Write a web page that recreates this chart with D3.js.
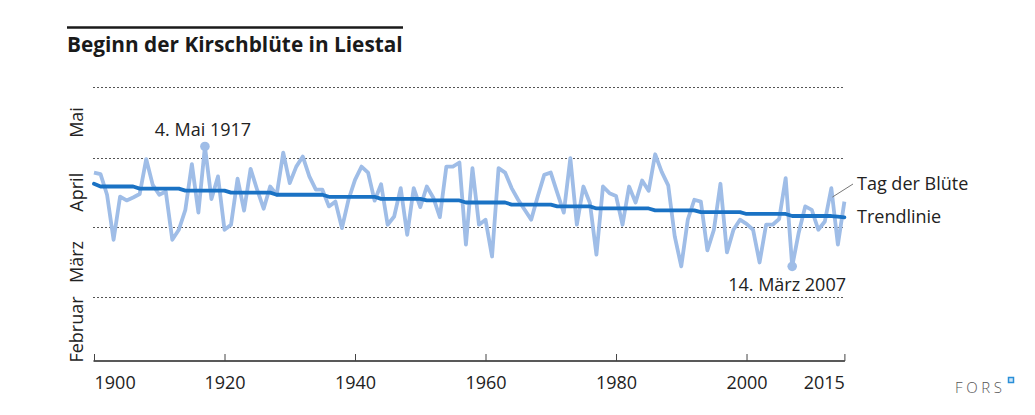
<!DOCTYPE html>
<html>
<head>
<meta charset="utf-8">
<script src="https://cdn.jsdelivr.net/npm/d3@7"></script>
<style>
  html, body { margin: 0; padding: 0; background: #fff; }
  svg { display: block; font-family: "Open Sans", "Noto Sans", sans-serif; }
</style>
</head>
<body>
<svg id="chart" width="1035" height="415"></svg>
<script>
// ---- data (day of year; 32 = 1 Feb, 60 = 1 Mar, 91 = 1 Apr, 121 = 1 May, 152 = 1 Jun)
const title = "Beginn der Kirschblüte in Liestal";
const startYear = 1900;
const bloomDay = [
  114.6, 113.9, 104.9, 85.2, 104.1, 102.4, 103.7, 105.2, 120.5, 109.2,   // 1900-1909
  104.9, 106.3, 85.2, 89.6, 98.3, 118.3, 97.1, 126.0, 103.0, 112.9,      // 1910-1919
  89.6, 91.8, 111.9, 98.0, 116.2, 107.1, 98.8, 108.5, 104.9, 123.3,      // 1920-1929
  110.0, 117.2, 121.6, 112.9, 107.1, 107.1, 99.8, 101.9, 90.3, 102.7,    // 1930-1939
  111.4, 117.2, 114.6, 102.3, 109.5, 91.8, 95.4, 107.8, 87.4, 107.8,     // 1940-1949
  99.5, 108.5, 103.6, 95.1, 117.2, 117.2, 119.0, 83.1, 116.5, 91.8,      // 1950-1959
  94.0, 77.9, 116.5, 114.6, 107.8, 102.7, 98.3, 94.0, 104.1, 113.6,      // 1960-1969
  114.6, 105.7, 97.1, 120.9, 91.8, 108.5, 101.3, 78.7, 108.5, 105.6,     // 1970-1979
  104.4, 91.8, 108.5, 101.5, 111.1, 106.6, 122.6, 114.9, 109.0, 86.7,    // 1980-1989
  73.6, 94.0, 102.7, 101.9, 80.6, 89.6, 109.7, 79.7, 89.6, 94.0,         // 1990-1999
  92.2, 89.6, 75.3, 91.8, 91.8, 94.3, 112.2, 73.6, 88.3, 99.8,           // 2000-2009
  98.3, 89.6, 93.2, 107.8, 83.1, 101.9                                   // 2010-2015
];
const trendDay = [
  109.7, 108.5, 108.5, 108.5, 108.5, 108.5, 108.5, 107.6, 107.6, 107.6,  // 1900-1909
  107.6, 107.6, 107.6, 107.6, 106.7, 106.7, 106.7, 106.7, 106.7, 106.7,  // 1910-1919
  106.7, 105.8, 105.8, 105.8, 105.8, 105.8, 105.8, 105.8, 104.9, 104.9,  // 1920-1929
  104.9, 104.9, 104.9, 104.9, 104.9, 104.9, 104.0, 104.0, 104.0, 104.0,  // 1930-1939
  104.0, 104.0, 104.0, 104.0, 103.1, 103.1, 103.1, 103.1, 103.1, 103.1,  // 1940-1949
  103.1, 102.4, 102.4, 102.4, 102.4, 102.4, 102.4, 101.5, 101.5, 101.5,  // 1950-1959
  101.5, 101.5, 101.5, 101.5, 100.6, 100.6, 100.6, 100.6, 100.6, 100.6,  // 1960-1969
  100.6, 99.8, 99.8, 99.8, 99.8, 99.8, 99.8, 98.9, 98.9, 98.9,           // 1970-1979
  98.9, 98.9, 98.9, 98.9, 98.9, 98.9, 98.1, 98.1, 98.1, 98.1,            // 1980-1989
  98.1, 98.1, 98.1, 97.3, 97.3, 97.3, 97.3, 97.3, 97.3, 97.3,            // 1990-1999
  96.5, 96.5, 96.5, 96.5, 96.5, 96.5, 96.5, 95.6, 95.6, 95.6,            // 2000-2009
  95.6, 95.6, 95.6, 95.6, 95.3, 95.0                                     // 2010-2015
];
const years = bloomDay.map((_, i) => startYear + i);
const xTicks = [1900, 1920, 1940, 1960, 1980, 2000, 2015];
const monthBounds = [32, 60, 91, 121, 152];          // Feb, Mar, Apr, May, Jun starts
const monthLabels = ["Februar", "März", "April", "Mai"];
const gridDays = [60, 91, 121, 152];
const extremes = [
  { year: 1917, label: "4. Mai 1917", pos: "above" },
  { year: 2007, label: "14. März 2007", pos: "below" }
];
const seriesLabels = ["Tag der Blüte", "Trendlinie"];

// ---- drawing
const svg = d3.select("#chart");
const x = d3.scaleLinear().domain([1900, 2015]).range([94, 844.4]);
const y = d3.scaleLinear().domain([32, 152]).range([361.5, 87]);

const lightBlue = "#9fbde7";
const darkBlue = "#1a72c4";
const textCol = "#222";
const fs = 18;

// title + rule
svg.append("line").attr("x1", 67).attr("x2", 403).attr("y1", 27.5).attr("y2", 27.5)
  .attr("stroke", "#1a1a1a").attr("stroke-width", 2.5);
svg.append("text").attr("x", 67).attr("y", 52)
  .attr("font-size", 20.8).attr("font-weight", 700).attr("fill", "#1a1a1a").text(title);

// gridlines
svg.append("g").selectAll("line").data(gridDays).join("line")
  .attr("x1", 93).attr("x2", 845)
  .attr("y1", d => Math.round(y(d)) + 0.5).attr("y2", d => Math.round(y(d)) + 0.5)
  .attr("stroke", "#555").attr("stroke-width", 1.1).attr("stroke-dasharray", "2,2");

// month labels (rotated)
svg.append("g").selectAll("text").data(monthLabels).join("text")
  .attr("transform", (d, i) => `translate(82.5,${(y(monthBounds[i]) + y(monthBounds[i + 1])) / 2}) rotate(-90)`)
  .attr("text-anchor", "middle").attr("font-size", fs).attr("fill", textCol)
  .text(d => d);

// x axis
const axisG = svg.append("g").attr("transform", `translate(0,${361})`);
axisG.call(d3.axisBottom(x).tickValues(xTicks).tickSize(-7).tickFormat(d3.format("d")).tickPadding(16));
axisG.select(".domain").attr("d", `M${x(1900) - 0.5},0H${x(2015) + 0.5}`).attr("stroke", "#222").attr("stroke-width", 1.6);
axisG.selectAll(".tick line").attr("stroke", "#444").attr("stroke-width", 1);
axisG.selectAll(".tick text")
  .attr("font-family", "'Open Sans', sans-serif").attr("font-size", fs).attr("fill", textCol)
  .attr("y", 27.5).attr("dy", 0)
  .attr("text-anchor", d => d === 1900 ? "start" : (d === 2015 ? "end" : "middle"));

// lines
const bloomLine = d3.line().x((d, i) => x(years[i])).y(d => y(d)).curve(d3.curveLinear);
svg.append("path").datum(bloomDay).attr("d", bloomLine)
  .attr("fill", "none").attr("stroke", lightBlue).attr("stroke-width", 3.8)
  .attr("stroke-linejoin", "round");
svg.append("path").datum(trendDay).attr("d", bloomLine)
  .attr("fill", "none").attr("stroke", darkBlue).attr("stroke-width", 3.8)
  .attr("stroke-linejoin", "round").attr("stroke-linecap", "round");

// extremes
extremes.forEach(e => {
  const v = bloomDay[e.year - startYear];
  svg.append("circle").attr("cx", x(e.year)).attr("cy", y(v)).attr("r", 4.8).attr("fill", lightBlue);
  if (e.pos === "above") {
    svg.append("text").attr("x", x(e.year) - 2).attr("y", y(v) - 10)
      .attr("text-anchor", "middle").attr("font-size", fs).attr("fill", textCol).text(e.label);
  } else {
    svg.append("text").attr("x", 846).attr("y", y(v) + 25)
      .attr("text-anchor", "end").attr("font-size", fs).attr("fill", textCol).text(e.label);
  }
});

// series labels
const lastBloomYear = 2013;
svg.append("line")
  .attr("x1", x(lastBloomYear) + 1).attr("y1", y(bloomDay[lastBloomYear - startYear]) + 9)
  .attr("x2", 853).attr("y2", 184)
  .attr("stroke", "#777").attr("stroke-width", 1);
svg.append("text").attr("x", 857).attr("y", 190).attr("font-size", fs).attr("fill", textCol).text(seriesLabels[0]);
svg.append("text").attr("x", 857).attr("y", 223).attr("font-size", fs).attr("fill", textCol).text(seriesLabels[1]);

// FORS logo
svg.append("text").attr("x", 955).attr("y", 393).attr("font-size", 15).attr("letter-spacing", 3.6)
  .attr("fill", "#555").attr("font-weight", 300).text("FORS");
svg.append("rect").attr("x", 1008.5).attr("y", 377.5).attr("width", 5).attr("height", 5)
  .attr("fill", "#cfe6f8").attr("stroke", "#2a8fd8").attr("stroke-width", 1.5);
</script>
</body>
</html>
